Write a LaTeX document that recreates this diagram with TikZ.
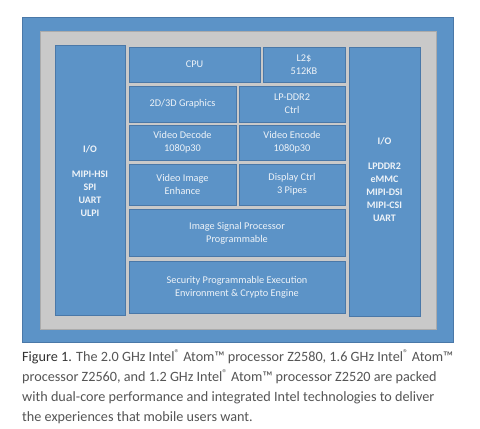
\documentclass[tikz,border=0pt]{standalone}
\usepackage{fontspec}
\setmainfont{Carlito}
\definecolor{blk}{HTML}{5C93C7}
\definecolor{bord}{HTML}{4A78A8}
\definecolor{grayf}{HTML}{C9C9C9}
\definecolor{txt}{HTML}{EEF3F8}
\definecolor{cap}{HTML}{555555}
\begin{document}
\begin{tikzpicture}[x=1pt,y=-1pt,
  blockbox/.style={draw=bord,fill=blk,line width=0.8pt},
  lbl/.style={text=txt,font=\fontsize{10.3}{13}\selectfont,align=center},
  iolbl/.style={text=txt,font=\bfseries\fontsize{10}{13}\selectfont,align=center},
  captxt/.style={text=cap,font=\fontsize{14.2}{20}\selectfont,anchor=north west,inner sep=0pt,align=left}]
\useasboundingbox (0,0) rectangle (480,429);
\fill[white] (0,0) rectangle (480,429);
\draw[blockbox] (22,17) rectangle (453,342);
\draw[draw=grayf!85!black,fill=grayf,line width=0.6pt] (40,31) rectangle (436,329);
% left IO
\draw[blockbox] (55,45) rectangle (125,315);
\node[iolbl] (lio) at (90,181) {I/O\\[12pt]MIPI-HSI\\SPI\\UART\\ULPI};
% right IO
\draw[blockbox] (349,47) rectangle (420,316);
\node[iolbl] (rio) at (384.5,180) {I/O\\[12pt]LPDDR2\\eMMC\\MIPI-DSI\\MIPI-CSI\\UART};
% center
\draw[blockbox] (129,47) rectangle (260,82);
\node[lbl] (cpu) at (194.5,64.5) {CPU};
\draw[blockbox] (263,47) rectangle (345,82);
\node[lbl] (l2) at (304,64.5) {L2\$\\512KB};
\draw[blockbox] (129,86) rectangle (236,122);
\node[lbl] (gfx) at (182.5,104) {2D/3D Graphics};
\draw[blockbox] (239,86) rectangle (345,122);
\node[lbl] (ddr) at (292,104) {LP-DDR2\\Ctrl};
\draw[blockbox] (129,125) rectangle (236,160);
\node[lbl] (vdec) at (182.5,142.5) {Video Decode\\1080p30};
\draw[blockbox] (239,125) rectangle (345,160);
\node[lbl] (venc) at (292,142.5) {Video Encode\\1080p30};
\draw[blockbox] (129,164) rectangle (236,205);
\node[lbl] (vie) at (182.5,184.5) {Video Image\\Enhance};
\draw[blockbox] (239,164) rectangle (345,205);
\node[lbl] (disp) at (292,184.5) {Display Ctrl\\3 Pipes};
\draw[blockbox] (129,209) rectangle (345,256);
\node[lbl] (isp) at (237,233) {Image Signal Processor\\Programmable};
\draw[blockbox] (129,261) rectangle (345,313);
\node[lbl] (sec) at (237,287) {Security Programmable Execution\\Environment \& Crypto Engine};
% caption
\node[captxt] (caption) at (22,349) {\textcolor{black!80}{Figure 1.} The 2.0 GHz Intel\textsuperscript{®} Atom\texttrademark{} processor Z2580, 1.6 GHz Intel\textsuperscript{®} Atom\texttrademark\\
processor Z2560, and 1.2 GHz Intel\textsuperscript{®} Atom\texttrademark{} processor Z2520 are packed\\
with dual-core performance and integrated Intel technologies to deliver\\
the experiences that mobile users want.};
\end{tikzpicture}
\end{document}
